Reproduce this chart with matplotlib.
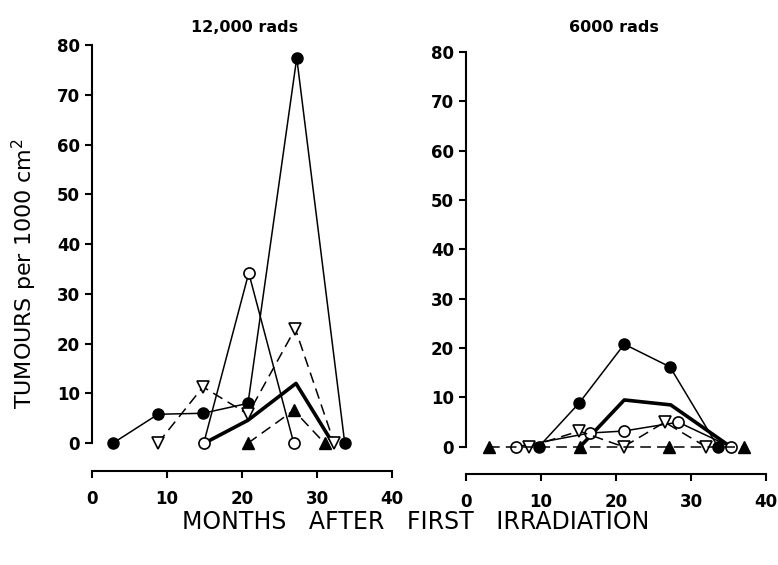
import matplotlib.pyplot as plt

# 12,000 rads panel
l_fc_x = [2.8, 8.8, 14.8, 20.8, 27.3, 33.7]
l_fc_y = [0, 5.8, 6.0, 8.0, 77.4, 0]
l_oc_x = [14.9, 20.9, 26.9]
l_oc_y = [0, 34.2, 0]
l_ot_x = [8.8, 14.8, 20.8, 27.1, 32.3]
l_ot_y = [0, 11.3, 5.8, 23.0, 0]
l_ft_x = [20.8, 26.9, 31.0]
l_ft_y = [0, 6.6, 0]
l_mean_x = [15.0, 20.8, 27.2, 32.1]
l_mean_y = [0, 4.6, 12.0, 0]

# 6000 rads panel
r_fc_x = [9.7, 15.1, 21.1, 27.2, 33.6]
r_fc_y = [0, 8.9, 20.8, 16.2, 0]
r_oc_x = [6.7, 16.5, 21.0, 28.3, 35.3]
r_oc_y = [0, 2.8, 3.2, 5.0, 0]
r_ot_x = [8.4, 15.1, 21.0, 26.5, 32.0]
r_ot_y = [0, 3.2, 0, 5.0, 0]
r_ft_x = [3.1, 15.2, 27.1, 37.0]
r_ft_y = [0, 0, 0, 0]
r_mean_x = [15.2, 21.1, 27.3, 35.3]
r_mean_y = [0, 9.5, 8.5, 0]

xticks = [0, 10, 20, 30, 40]
yticks = [0, 10, 20, 30, 40, 50, 60, 70, 80]

fig = plt.figure(figsize=(7.78, 5.65), dpi=100)
ax1 = fig.add_axes([92 / 778, 1 - 471 / 565, 300 / 778, (471 - 45) / 565])
ax2 = fig.add_axes([466 / 778, 1 - 474 / 565, 300 / 778, (474 - 52) / 565])

dash = (0, (7, 4))
ms = 8


def draw(ax, fc, oc, ot, ft, mean):
    ax.plot(*fc, '-', color='black', lw=1.1, marker='o', ms=ms, mfc='black', clip_on=False, zorder=3)
    ax.plot(*oc, '-', color='black', lw=1.1, marker='o', ms=ms, mfc='white', mew=1.2, clip_on=False, zorder=3)
    ax.plot(*ot, linestyle=dash, color='black', lw=1.1, marker='v', ms=ms, mfc='white', mew=1.2, clip_on=False, zorder=3)
    ax.plot(*ft, linestyle=dash, color='black', lw=1.1, marker='^', ms=ms, mfc='black', clip_on=False, zorder=3)
    ax.plot(*mean, '-', color='black', lw=2.6, clip_on=False, zorder=2)


draw(ax1, (l_fc_x, l_fc_y), (l_oc_x, l_oc_y), (l_ot_x, l_ot_y), (l_ft_x, l_ft_y), (l_mean_x, l_mean_y))
draw(ax2, (r_fc_x, r_fc_y), (r_oc_x, r_oc_y), (r_ot_x, r_ot_y), (r_ft_x, r_ft_y), (r_mean_x, r_mean_y))

for ax, ybot in [(ax1, -5.6), (ax2, -5.5)]:
    ax.set_xlim(0, 40)
    ax.set_ylim(ybot, 80)
    ax.spines['top'].set_visible(False)
    ax.spines['right'].set_visible(False)
    ax.spines['left'].set_bounds(0, 80)
    ax.spines['left'].set_linewidth(1.5)
    ax.spines['bottom'].set_linewidth(1.5)
    ax.set_xticks(xticks)
    ax.set_yticks(yticks)
    ax.tick_params(direction='out', length=5, width=1.5, labelsize=12)
    ax.tick_params(axis='x', pad=9)
    for lab in ax.get_xticklabels() + ax.get_yticklabels():
        lab.set_fontweight('bold')

fig.text(245 / 778, 1 - 28 / 565, '12,000 rads', fontsize=11.5, fontweight='bold',
         ha='center', va='center')
fig.text(614 / 778, 1 - 28 / 565, '6000 rads', fontsize=11.5, fontweight='bold',
         ha='center', va='center')

fig.text(24 / 778, 1 - 273 / 565, 'TUMOURS per 1000 cm$^2$', rotation=90, fontsize=16,
         ha='center', va='center')
fig.text(416 / 778, 1 - 522 / 565, 'MONTHS   AFTER   FIRST   IRRADIATION', fontsize=17,
         ha='center', va='center')

fig.savefig('out.png', dpi=100)
